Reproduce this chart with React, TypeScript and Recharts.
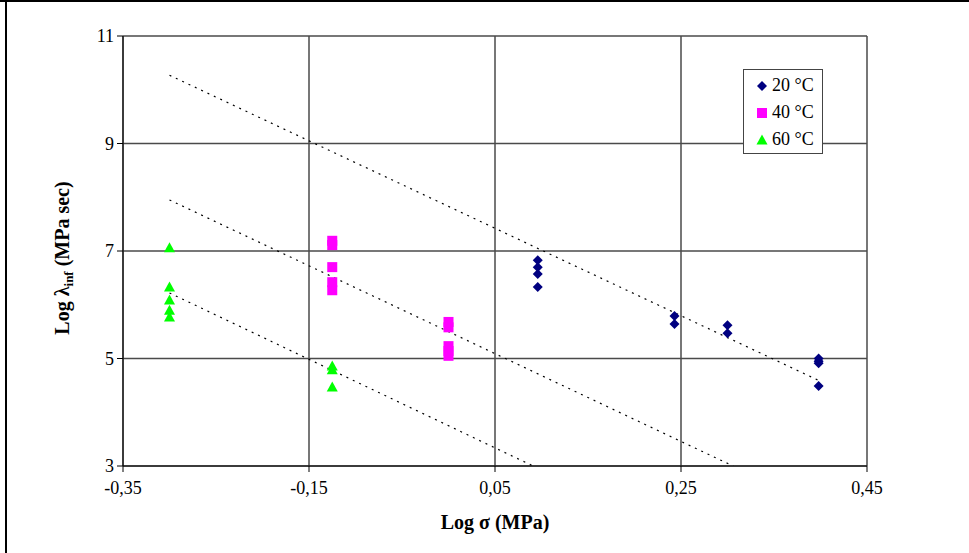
import React from 'react';
import {
  ScatterChart,
  Scatter,
  XAxis,
  YAxis,
  CartesianGrid,
  Legend,
} from 'recharts';

// Log σ (MPa) vs Log λinf (MPa sec) at three temperatures
const series20 = [
  { x: 0.096, y: 6.83 },
  { x: 0.096, y: 6.7 },
  { x: 0.096, y: 6.57 },
  { x: 0.096, y: 6.33 },
  { x: 0.243, y: 5.79 },
  { x: 0.243, y: 5.64 },
  { x: 0.3, y: 5.62 },
  { x: 0.3, y: 5.47 },
  { x: 0.398, y: 5.0 },
  { x: 0.398, y: 4.95 },
  { x: 0.398, y: 4.91 },
  { x: 0.398, y: 4.49 },
];

const series40 = [
  { x: -0.125, y: 7.19 },
  { x: -0.125, y: 7.11 },
  { x: -0.125, y: 6.7 },
  { x: -0.125, y: 6.42 },
  { x: -0.125, y: 6.27 },
  { x: 0.0, y: 5.68 },
  { x: 0.0, y: 5.58 },
  { x: 0.0, y: 5.23 },
  { x: 0.0, y: 5.14 },
  { x: 0.0, y: 5.05 },
];

const series60 = [
  { x: -0.3, y: 7.06 },
  { x: -0.3, y: 6.33 },
  { x: -0.3, y: 6.09 },
  { x: -0.3, y: 5.9 },
  { x: -0.3, y: 5.77 },
  { x: -0.125, y: 4.86 },
  { x: -0.125, y: 4.79 },
  { x: -0.125, y: 4.47 },
];

// Dotted linear trend lines (start and end points)
const trend20 = [
  { x: -0.3, y: 10.27 },
  { x: 0.397, y: 4.6 },
];
const trend40 = [
  { x: -0.3, y: 7.95 },
  { x: 0.306, y: 3.0 },
];
const trend60 = [
  { x: -0.3, y: 6.22 },
  { x: 0.091, y: 3.0 },
];

const xTicks = [-0.35, -0.15, 0.05, 0.25, 0.45];
const yTicks = [3, 5, 7, 9, 11];

const legendItems = [
  { label: '20 °C', color: '#000080', kind: 'diamond' },
  { label: '40 °C', color: '#FF00FF', kind: 'square' },
  { label: '60 °C', color: '#00FF00', kind: 'triangle' },
];

const FONT = '"Liberation Serif", "Times New Roman", serif';

const Diamond = (props: any) => {
  const { cx, cy, fill } = props;
  const r = 5;
  return (
    <polygon
      points={`${cx},${cy - r} ${cx + r},${cy} ${cx},${cy + r} ${cx - r},${cy}`}
      fill={fill}
    />
  );
};

const Square = (props: any) => {
  const { cx, cy, fill } = props;
  return <rect x={cx - 5} y={cy - 5} width={10} height={10} fill={fill} />;
};

const Triangle = (props: any) => {
  const { cx, cy, fill } = props;
  return (
    <polygon
      points={`${cx},${cy - 5.5} ${cx + 5.5},${cy + 4.5} ${cx - 5.5},${cy + 4.5}`}
      fill={fill}
    />
  );
};

const NoMarker = () => <g />;

const symbolFor = (kind: string, color: string) => {
  if (kind === 'diamond') return <Diamond cx={7} cy={7} fill={color} />;
  if (kind === 'square') return <Square cx={7} cy={7} fill={color} />;
  return <Triangle cx={7} cy={7} fill={color} />;
};

const LegendBox = () => (
  <div
    style={{
      width: 78,
      height: 81,
      border: '1px solid #444',
      background: '#fff',
      boxSizing: 'content-box',
      paddingTop: 2,
    }}
  >
    {legendItems.map((it) => (
      <div
        key={it.label}
        style={{
          display: 'flex',
          alignItems: 'center',
          height: 27,
          paddingLeft: 11,
          fontFamily: FONT,
          fontSize: 18,
          color: '#000',
          whiteSpace: 'nowrap',
        }}
      >
        <svg width={14} height={14} style={{ marginRight: 3 }}>
          {symbolFor(it.kind, it.color)}
        </svg>
        <span>{it.label}</span>
      </div>
    ))}
  </div>
);

const fmt = (v: number) => v.toFixed(2).replace('.', ',');

const dotted = { stroke: '#000', strokeDasharray: '2 5', strokeWidth: 1.2 };

export default function App() {
  return (
    <div
      style={{
        position: 'absolute',
        left: 0,
        top: 0,
        width: 969,
        height: 553,
        background: '#fff',
      }}
    >
      <ScatterChart
        width={969}
        height={553}
        margin={{ top: 36, right: 102, bottom: 57, left: 73 }}
      >
        <CartesianGrid stroke="#4a4a4a" strokeWidth={1.5} />
        <XAxis
          type="number"
          dataKey="x"
          domain={[-0.35, 0.45]}
          ticks={xTicks}
          tickFormatter={fmt}
          height={30}
          stroke="#000"
          tickSize={6}
          tickMargin={9}
          tick={{ fill: '#000', fontFamily: FONT, fontSize: 18 }}
          allowDataOverflow
        />
        <YAxis
          type="number"
          dataKey="y"
          domain={[3, 11]}
          ticks={yTicks}
          width={50}
          stroke="#000"
          tickSize={6}
          tickMargin={3}
          tick={{ fill: '#000', fontFamily: FONT, fontSize: 18 }}
          allowDataOverflow
        />
        <Scatter data={trend20} line={dotted} shape={NoMarker} legendType="none" isAnimationActive={false} />
        <Scatter data={trend40} line={dotted} shape={NoMarker} legendType="none" isAnimationActive={false} />
        <Scatter data={trend60} line={dotted} shape={NoMarker} legendType="none" isAnimationActive={false} />
        <Scatter name="20 °C" data={series20} fill="#000080" shape={Diamond} isAnimationActive={false} />
        <Scatter name="40 °C" data={series40} fill="#FF00FF" shape={Square} isAnimationActive={false} />
        <Scatter name="60 °C" data={series60} fill="#00FF00" shape={Triangle} isAnimationActive={false} />
        <Legend
          layout="vertical"
          align="center"
          verticalAlign="middle"
          content={() => <LegendBox />}
          wrapperStyle={{ left: 743, top: 69, width: 80 }}
        />
      </ScatterChart>
      <svg
        width={969}
        height={553}
        style={{ position: 'absolute', left: 0, top: 0, pointerEvents: 'none' }}
      >
        <rect x={0} y={0} width={969} height={2} fill="#000" />
        <rect x={5} y={0} width={2} height={553} fill="#000" />
        <text
          x={495}
          y={529}
          textAnchor="middle"
          fontFamily={FONT}
          fontWeight="bold"
          fontSize={20}
          fill="#000"
        >
          Log σ (MPa)
        </text>
        <text
          transform="translate(69, 258) rotate(-90)"
          textAnchor="middle"
          fontFamily={FONT}
          fontWeight="bold"
          fontSize={20}
          fill="#000"
        >
          Log λ
          <tspan fontSize={13} dy={4}>inf</tspan>
          <tspan dy={-4}> (MPa sec)</tspan>
        </text>
      </svg>
    </div>
  );
}
